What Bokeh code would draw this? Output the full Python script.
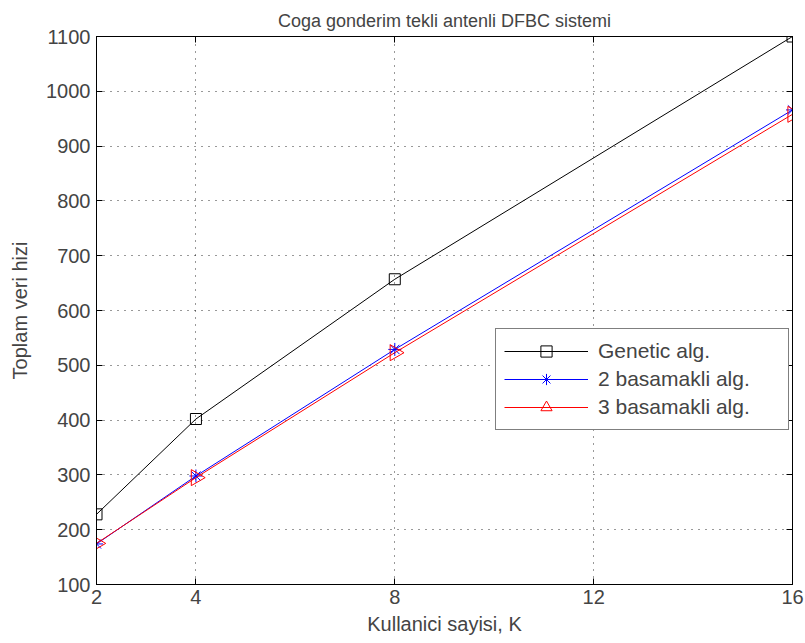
import math
from bokeh.plotting import figure
from bokeh.models import LinearAxis, FixedTicker, Legend, LegendItem, Range1d
from bokeh.embed import file_html
from bokeh.resources import INLINE

users = [2, 4, 8, 16]
genetic = [228, 402, 657, 1100]
two_step = [174, 298, 529, 966]
three_step = [175, 295, 523, 958]

x_ticks = [2, 4, 8, 12, 16]
y_ticks = list(range(100, 1101, 100))

FONT = "Liberation Sans"

p = figure(width=805, height=643, output_backend="svg", toolbar_location=None,
           x_range=Range1d(2, 16), y_range=Range1d(100, 1100),
           min_border_left=96, min_border_right=13, min_border_top=36, min_border_bottom=59)
p.title.text = "Coga gonderim tekli antenli DFBC sistemi"
p.title.text_font = FONT
p.title.text_font_size = "18px"
p.title.text_font_style = "normal"
p.title.align = "center"
p.title.standoff = 12
p.outline_line_color = "black"
p.outline_line_width = 1

for ax in (p.xaxis[0], p.yaxis[0]):
    ax.major_tick_in = 6
    ax.major_tick_out = 0
    ax.minor_tick_in = 0
    ax.minor_tick_out = 0
    ax.major_label_text_font = FONT
    ax.major_label_text_font_size = "20px"
    ax.axis_label_text_font = FONT
    ax.axis_label_text_font_size = "20px"
    ax.axis_label_text_font_style = "normal"
    ax.axis_line_color = "black"

p.xaxis[0].ticker = FixedTicker(ticks=x_ticks)
p.yaxis[0].ticker = FixedTicker(ticks=y_ticks)
p.xaxis[0].axis_label = "Kullanici sayisi, K"
p.yaxis[0].axis_label = "Toplam veri hizi"
p.xaxis[0].major_label_standoff = 5
p.yaxis[0].major_label_standoff = 6
p.xaxis[0].axis_label_standoff = 6
p.yaxis[0].axis_label_standoff = 12

top_ax = LinearAxis(ticker=FixedTicker(ticks=x_ticks), major_label_text_font_size="0px",
                    major_tick_in=6, major_tick_out=0, minor_tick_in=0, minor_tick_out=0)
right_ax = LinearAxis(ticker=FixedTicker(ticks=y_ticks), major_label_text_font_size="0px",
                      major_tick_in=6, major_tick_out=0, minor_tick_in=0, minor_tick_out=0)
p.add_layout(top_ax, "above")
p.add_layout(right_ax, "right")

p.xgrid.ticker = FixedTicker(ticks=x_ticks)
p.ygrid.ticker = FixedTicker(ticks=y_ticks)
for g in (p.xgrid, p.ygrid):
    g.grid_line_color = "black"
    g.grid_line_alpha = 0.8
    g.grid_line_dash = "1 6"
    g.grid_line_width = 1

l1 = p.line(users, genetic, line_color="black", line_width=1)
m1 = p.scatter(users, genetic, marker="square", size=11, fill_color=None, line_color="black", line_width=1)
l2 = p.line(users, two_step, line_color="blue", line_width=1)
m2 = p.scatter(users, two_step, marker="asterisk", size=13, line_color="blue", line_width=1)
l3 = p.line(users, three_step, line_color="red", line_width=1)
m3 = p.scatter(users, three_step, marker="triangle", size=16, angle=-math.pi / 2,
               fill_color=None, line_color="red", line_width=1)

legend = Legend(items=[
    LegendItem(label="Genetic alg.", renderers=[l1, m1]),
    LegendItem(label="2 basamakli alg.", renderers=[l2, m2]),
    LegendItem(label="3 basamakli alg.", renderers=[l3, m3]),
], location=(399, 154))
legend.label_text_font = FONT
legend.label_text_font_size = "21px"
legend.glyph_width = 84
legend.glyph_height = 28
legend.label_height = 28
legend.label_standoff = 10
legend.label_width = 182
legend.spacing = 0
legend.padding = 8
legend.margin = 0
legend.border_line_color = "black"
legend.border_line_width = 1
legend.background_fill_alpha = 1
p.add_layout(legend, "center")

open("out.html", "w").write(file_html(p, INLINE))
